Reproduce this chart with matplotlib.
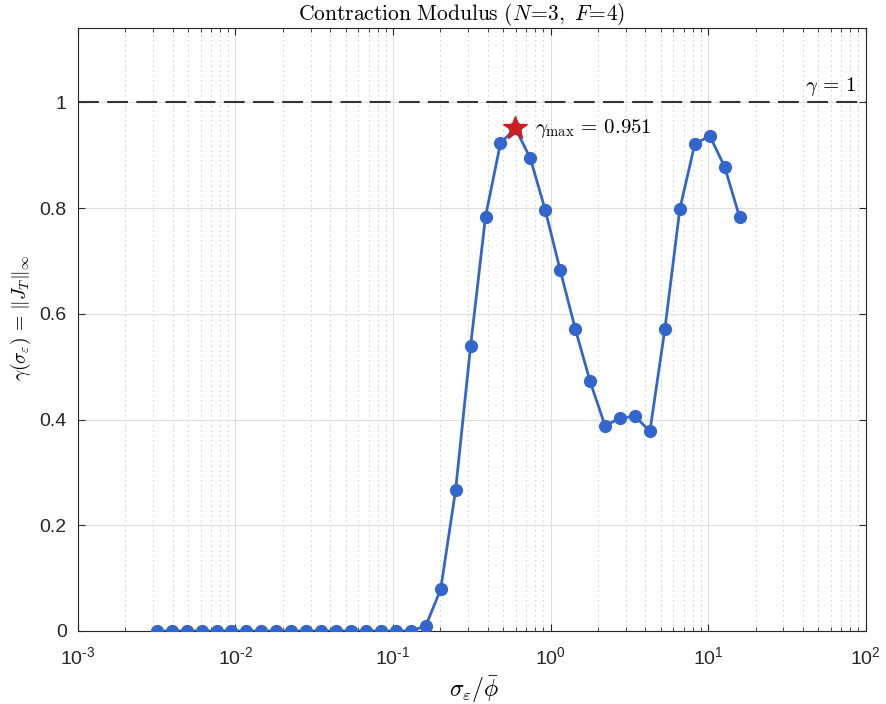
import numpy as np
import matplotlib
matplotlib.use("Agg")
import matplotlib.pyplot as plt
from matplotlib.ticker import LogLocator, NullFormatter

# ---- data ----
log_x_start = -2.5
log_x_end = 1.2
n_points = 40
sigma_ratio = np.logspace(log_x_start, log_x_end, n_points)
gamma_vals = [0.0]*18 + [0.0095, 0.079, 0.267, 0.539, 0.784, 0.923, 0.951,
              0.894, 0.796, 0.682, 0.572, 0.472, 0.388, 0.403, 0.406, 0.378,
              0.571, 0.798, 0.921, 0.937, 0.878, 0.783]
peak_index = 24
gamma_max = 0.951
y_ticks = [0, 0.2, 0.4, 0.6, 0.8, 1.0]
y_tick_labels = ["0", "0.2", "0.4", "0.6", "0.8", "1"]
x_ticks = [1e-3, 1e-2, 1e-1, 1e0, 1e1, 1e2]
x_tick_labels = [r"$10^{\text{-3}}$", r"$10^{\text{-2}}$", r"$10^{\text{-1}}$",
                 r"$10^{0}$", r"$10^{1}$", r"$10^{2}$"]

plt.rcParams['mathtext.fontset'] = 'custom'
plt.rcParams['mathtext.rm'] = 'Liberation Sans'
plt.rcParams['mathtext.it'] = 'Liberation Sans:italic'
plt.rcParams['mathtext.bf'] = 'Liberation Sans:bold'
plt.rcParams['font.family'] = ['Liberation Sans', 'DejaVu Sans']

fig = plt.figure(figsize=(8.86, 7.04), dpi=100)
ax = fig.add_axes([0.088, 0.1037, 0.889, 0.856])

blue = '#3366CC'
ax.plot(sigma_ratio, gamma_vals, '-o', color=blue, lw=2.0, ms=8.5, zorder=3)
ax.plot(sigma_ratio[peak_index], gamma_max, marker='*', color='#CC1F24',
        ms=18, zorder=4, linestyle='none')
ax.axhline(1.0, color='#333333', lw=1.5, dashes=(10, 4), zorder=2)

ax.set_xscale('log')
ax.set_xlim(1e-3, 1e2)
ax.set_ylim(0, 1.14)
ax.set_xticks(x_ticks)
ax.set_xticklabels(x_tick_labels)
ax.xaxis.set_minor_locator(LogLocator(base=10, subs=np.arange(2, 10)))
ax.xaxis.set_minor_formatter(NullFormatter())
ax.set_yticks(y_ticks)
ax.set_yticklabels(y_tick_labels)

for lbl in ax.get_xticklabels() + ax.get_yticklabels():
    lbl.set_math_fontfamily('custom')
    lbl.set_fontsize(14)
    lbl.set_color('#262626')

ax.tick_params(which='both', direction='in', top=True, right=True, color='#262626')
ax.tick_params(axis='y', which='major', length=5, width=0.8, pad=8)
ax.tick_params(axis='x', which='major', length=5, width=0.8, pad=11)
ax.tick_params(which='minor', length=3, width=0.6)

ax.grid(True, which='major', color='#dedede', lw=0.8, zorder=0)
ax.grid(True, which='minor', axis='x', color='#c4c4c4', lw=0.8, linestyle=(0, (1, 3.5)), zorder=0)
ax.set_axisbelow(True)
for s in ax.spines.values():
    s.set_color('#262626')
    s.set_linewidth(0.8)

title = ax.set_title(r'$\mathrm{Contraction\ Modulus\ (}N\!=\!\mathrm{3,\ }F\!=\!\mathrm{4)}$',
                     fontsize=15.5, pad=6, x=0.487)
title.set_math_fontfamily('cm')
xl = ax.set_xlabel(r'$\sigma_\varepsilon/\bar{\phi}$', fontsize=17)
xl.set_math_fontfamily('cm')
ax.xaxis.set_label_coords(0.503, -0.072)
yl = ax.set_ylabel(r'$\gamma(\sigma_\varepsilon)\,=\,\|J_T\|_\infty$', fontsize=14)
yl.set_math_fontfamily('cm')
ax.yaxis.set_label_coords(-0.057, 0.52)

t1 = ax.text(0.988, 1.008, r'$\gamma\,=\,1$', transform=ax.get_yaxis_transform(),
             ha='right', va='bottom', fontsize=15)
t1.set_math_fontfamily('cm')
t2 = ax.text(sigma_ratio[peak_index]*1.33, gamma_max, r'$\gamma_{\max}\,=\,0.951$',
             ha='left', va='center', fontsize=15)
t2.set_math_fontfamily('cm')

fig.savefig('out.png', dpi=100, facecolor='white')
